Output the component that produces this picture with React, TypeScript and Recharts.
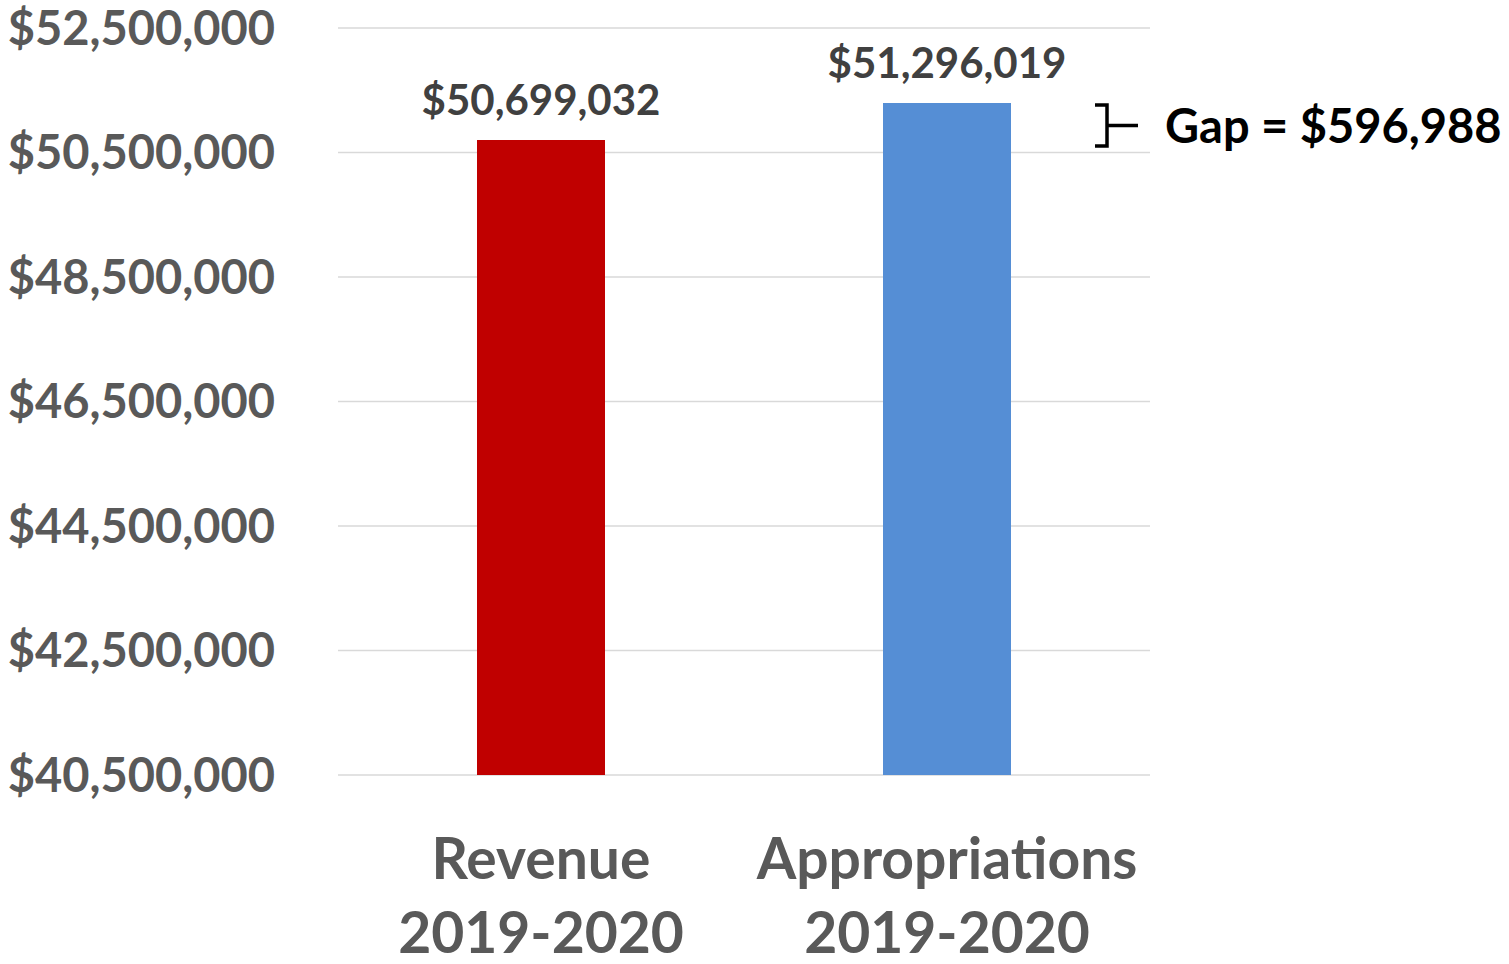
import React from 'react';
import { BarChart, Bar, XAxis, YAxis, CartesianGrid, LabelList, Cell } from 'recharts';

const categories = ['Revenue 2019-2020', 'Appropriations 2019-2020'];
const categoryLines = [
  ['Revenue', '2019-2020'],
  ['Appropriations', '2019-2020'],
];
const values = [50699032, 51296019];
const barColors = ['#C00000', '#558ED5'];
const yTicks = [40500000, 42500000, 44500000, 46500000, 48500000, 50500000, 52500000];
const yDomain = [40500000, 52500000];
const gapLabel = 'Gap = $596,988';

const data = categories.map((c, i) => ({ name: c, value: values[i] }));

const FONT = 'Lato, "Open Sans", sans-serif';
const money = (v: number) => '$' + Number(v).toLocaleString('en-US');

const XTick = (props: any) => {
  const { x, y, index } = props;
  const lines = categoryLines[index] || [String(props.payload?.value ?? '')];
  return (
    <text
      x={x}
      y={y}
      textAnchor="middle"
      fill="#595959"
      fontSize={57}
      fontWeight={700}
      fontFamily={FONT}
    >
      <tspan x={x} y={y + 104}>{lines[0]}</tspan>
      <tspan x={x} y={y + 178}>{lines[1]}</tspan>
    </text>
  );
};

const GapMarker = (props: any) => {
  const { x, y, width, height, index, value } = props;
  if (!(index === 1 || value === values[1])) return null;
  const pxPerUnit = height / (values[1] - yDomain[0]);
  const yTop = y + 2;
  const yBot = y + (values[1] - values[0]) * pxPerUnit + 6;
  const bx = x + width + 96;
  const mid = (yTop + yBot) / 2;
  const d = `M ${bx - 12} ${yTop} L ${bx} ${yTop} L ${bx} ${yBot} L ${bx - 12} ${yBot} M ${bx} ${mid} L ${bx + 31} ${mid}`;
  return (
    <g>
      <path d={d} stroke="#000" strokeWidth={3.5} fill="none" />
      <text
        x={x + width + 154}
        y={mid + 17}
        fill="#000"
        fontSize={47}
        fontWeight={700}
        fontFamily={FONT}
      >
        {gapLabel}
      </text>
    </g>
  );
};

export default function App() {
  return (
    <div style={{ position: 'absolute', left: 0, top: 0, width: 1509, height: 964, background: '#fff', fontFamily: FONT }}>
      <BarChart
        width={1509}
        height={964}
        data={data}
        margin={{ top: 28, right: 359, bottom: 0, left: 0 }}
      >
        <CartesianGrid vertical={false} stroke="#D9D9D9" strokeWidth={1.5} />
        <XAxis
          dataKey="name"
          tickLine={false}
          axisLine={false}
          interval={0}
          height={189}
          tickSize={0}
          tickMargin={0}
          tick={<XTick />}
        />
        <YAxis
          width={338}
          domain={yDomain}
          ticks={yTicks}
          tickFormatter={money}
          tickLine={false}
          axisLine={false}
          tickSize={0}
          tickMargin={63}
          tick={{ fontSize: 47, fill: '#595959', fontWeight: 700, fontFamily: FONT }}
          allowDataOverflow
        />
        <Bar dataKey="value" barSize={128} isAnimationActive={false}>
          {data.map((d, i) => (
            <Cell key={d.name} fill={barColors[i]} />
          ))}
          <LabelList
            dataKey="value"
            position="top"
            offset={25}
            formatter={(v: any) => money(v)}
            style={{ fontSize: 42, fill: '#404040', fontWeight: 700, fontFamily: FONT }}
          />
          <LabelList dataKey="value" content={<GapMarker />} />
        </Bar>
      </BarChart>
    </div>
  );
}
